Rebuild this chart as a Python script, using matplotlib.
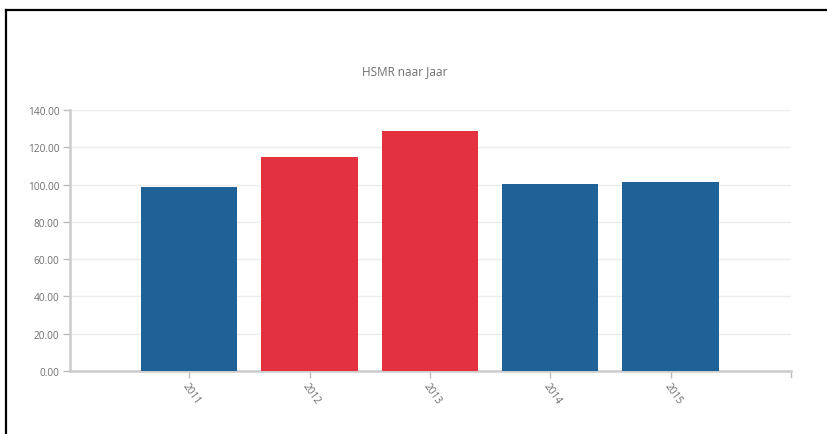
import numpy as np
import matplotlib.pyplot as plt
from matplotlib.lines import Line2D

years = ['2011', '2012', '2013', '2014', '2015']
hsmr = [98.9, 115.0, 128.6, 100.4, 101.6]
significant = [False, True, True, False, False]

BLUE = '#1f6298'
RED = '#e3313f'
GREY_TXT = '#6e6e6e'

plt.rcParams['font.family'] = ['Open Sans', 'DejaVu Sans']

fig = plt.figure(figsize=(8.27, 4.35), dpi=100)
ax = fig.add_axes([0.0846, 0.1448, 0.8719, 0.6])

x = np.arange(len(years))
colors = [RED if s else BLUE for s in significant]
ax.bar(x, hsmr, width=0.8, color=colors, zorder=3)

ax.set_xlim(-0.99, 5.0)
ax.set_ylim(0, 140)
ax.set_yticks(np.arange(0, 141, 20))
ax.set_yticklabels(['%.2f' % v for v in np.arange(0, 141, 20)])
ax.set_xticks(x)
ax.set_xticklabels(years, rotation=-55, ha='left', va='top',
                   rotation_mode='anchor')

# light horizontal gridlines
ax.grid(axis='y', color='#ececec', linewidth=1.0, zorder=0)
ax.grid(axis='x', visible=False)

for side in ('top', 'right'):
    ax.spines[side].set_visible(False)
for side in ('left', 'bottom'):
    ax.spines[side].set_color('#cccccc')
    ax.spines[side].set_linewidth(1.8)

ax.tick_params(axis='both', colors='#bbbbbb', length=5, width=1,
               labelcolor=GREY_TXT, labelsize=7.3)
ax.tick_params(axis='y', pad=2.5)
ax.tick_params(axis='x', pad=2)

# outer tick at the right end of the x domain
ax.plot([5.0, 5.0], [0, -3], color='#bbbbbb', lw=1, clip_on=False,
        transform=ax.transData)

fig.text(405 / 827, 1 - 72 / 435, 'HSMR naar Jaar', ha='center',
         va='center', fontsize=8.5, color=GREY_TXT)

# frame lines along top and left edge
fig.add_artist(Line2D([5.5 / 827, 1.0], [1 - 10.5 / 435] * 2,
                      color='black', lw=1.6))
fig.add_artist(Line2D([5.5 / 827] * 2, [0, 1 - 10.5 / 435],
                      color='black', lw=1.6))

fig.savefig('out.png', dpi=100)
